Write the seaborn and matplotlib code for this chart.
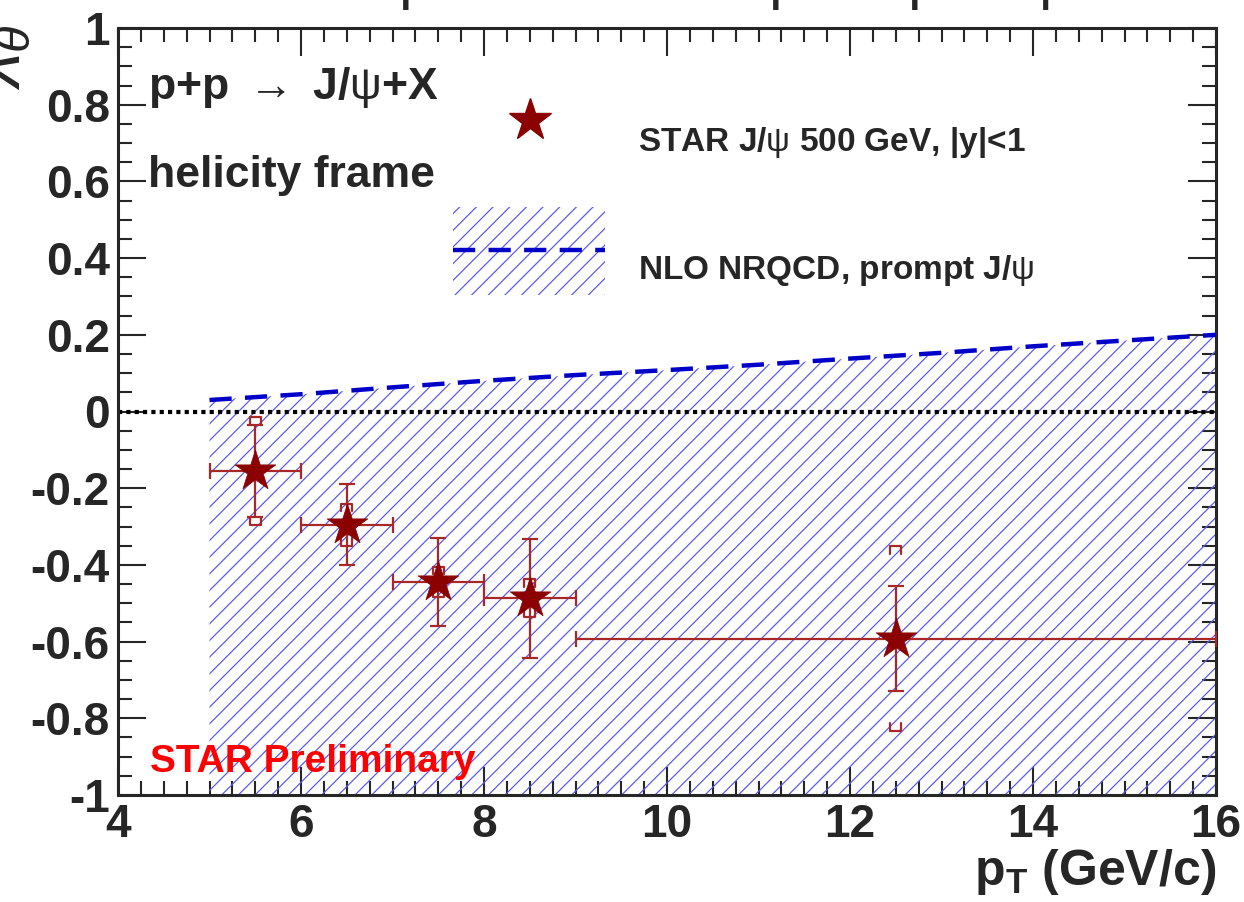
import numpy as np
import seaborn as sns
import matplotlib.pyplot as plt
from matplotlib.patches import Rectangle
from matplotlib.ticker import MultipleLocator

sns.set_style("ticks")
plt.rcParams['font.family'] = ['Liberation Sans', 'DejaVu Sans']
plt.rcParams['mathtext.fontset'] = 'custom'
plt.rcParams['mathtext.rm'] = 'Liberation Sans'
plt.rcParams['mathtext.bf'] = 'Liberation Sans:bold'
plt.rcParams['mathtext.it'] = 'Liberation Sans:italic'
plt.rcParams['hatch.linewidth'] = 0.9

# STAR J/psi 500 GeV data points
pt = [5.5, 6.5, 7.5, 8.5, 12.5]
pt_lo = [0.5, 0.5, 0.5, 0.5, 3.5]
pt_hi = [0.5, 0.5, 0.5, 0.5, 3.5]
lam = [-0.155, -0.295, -0.445, -0.487, -0.592]
stat_err = [0.12, 0.105, 0.115, 0.155, 0.138]
sys_err = [0.14, 0.055, 0.04, 0.05, 0.24]

# NLO NRQCD prompt J/psi prediction (upper edge of band)
nlo_pt = [5, 6, 7, 8, 9, 10, 11, 12, 13, 14, 15, 16]
nlo_lam = [0.03, 0.045, 0.063, 0.08, 0.095, 0.108, 0.122, 0.138, 0.153, 0.17, 0.185, 0.2]
nlo_low = -1.0

star_col = '#8b0000'
err_col = '#a82828'
band_col = '#5c5cf0'
line_col = '#0000c8'

fig = plt.figure(figsize=(12.44, 9.02), dpi=100)
ax = fig.add_axes([118/1244, 1-795/902, (1216-118)/1244, (795-28)/902])


def px(x, y):
    # pixel position in the figure -> axes fraction
    return ((x - 118) / (1216 - 118), (795 - y) / (795 - 28))


# theory band
ax.fill_between(nlo_pt, nlo_low, nlo_lam, facecolor='none', edgecolor=band_col,
                hatch='//', linewidth=0, zorder=1)
sns.lineplot(x=nlo_pt, y=nlo_lam, ax=ax, color=line_col, lw=3.2,
             linestyle=(0, (5, 3)), zorder=3)

ax.axhline(0, color='black', lw=3, linestyle=(0, (1, 1)), zorder=2)

# stat errors
ax.errorbar(pt, lam, xerr=[pt_lo, pt_hi], yerr=stat_err, fmt='none',
            ecolor=err_col, elinewidth=1.6, capsize=6, capthick=1.6, zorder=4)

# sys brackets
bw = 0.06
bh = 0.02
for x, y, s in zip(pt, lam, sys_err):
    top = y + s
    bot = y - s
    ax.plot([x - bw, x - bw, x + bw, x + bw], [top - bh, top, top, top - bh],
            color=err_col, lw=1.6, zorder=4)
    ax.plot([x - bw, x - bw, x + bw, x + bw], [bot + bh, bot, bot, bot + bh],
            color=err_col, lw=1.6, zorder=4)

sns.scatterplot(x=pt, y=lam, ax=ax, marker='*', s=950, color=star_col,
                edgecolor=star_col, linewidth=0.5, zorder=5)

ax.set_xlim(4, 16)
ax.set_ylim(-1, 1)
ax.xaxis.set_major_locator(MultipleLocator(2))
ax.xaxis.set_minor_locator(MultipleLocator(0.25))
ax.yaxis.set_minor_locator(MultipleLocator(0.05))
ax.set_yticks([-1, -0.8, -0.6, -0.4, -0.2, 0, 0.2, 0.4, 0.6, 0.8, 1])
ax.set_yticklabels(['-1', '-0.8', '-0.6', '-0.4', '-0.2', '0', '0.2', '0.4', '0.6', '0.8', '1'])
ax.tick_params(which='both', direction='in', top=True, right=True, width=1.5)
ax.tick_params(which='major', length=20, labelsize=33, pad=6)
ax.tick_params(which='minor', length=10)
for lbl in ax.get_xticklabels() + ax.get_yticklabels():
    lbl.set_fontweight('bold')
for sp in ax.spines.values():
    sp.set_linewidth(2.2)

ax.set_xlabel(r'p$_{\mathbf{T}}$ (GeV/c)', fontsize=36, fontweight='bold',
              ha='right', x=1.0, labelpad=0)
ax.set_ylabel('')

# texts
ax.text(*px(148, 88), r'p+p $\rightarrow$ J/$\mathrm{\psi}$+X', transform=ax.transAxes,
        fontsize=32, fontweight='bold', va='center')
ax.text(*px(148, 175), 'helicity frame', fontsize=32, fontweight='bold', va='center',
        transform=ax.transAxes)
ax.text(*px(150, 762), 'STAR Preliminary', fontsize=28, fontweight='bold', color='red',
        va='center', transform=ax.transAxes)

fig.text(398/1244, 1 + 3/902, r'prediction for prompt J/$\mathrm{\psi}$',
         fontsize=44, va='baseline', ha='left')
fig.text(34/1244, 1 - 25/902, r'$\lambda_{\theta}$', fontsize=50, rotation=90,
         ha='right', va='top')

# legend
sx, sy = px(530, 120)
ax.plot([sx], [sy], marker='*', markersize=32, color=star_col, transform=ax.transAxes,
        clip_on=False, zorder=6)
ax.text(*px(638, 142), r'STAR J/$\mathrm{\psi}$ 500 GeV, |y|<1', fontsize=24,
        fontweight='bold', va='center', transform=ax.transAxes)
rx0, ry0 = px(453, 295)
rx1, ry1 = px(605, 207)
ax.add_patch(Rectangle((rx0, ry0), rx1 - rx0, ry1 - ry0, transform=ax.transAxes,
                       facecolor='none', edgecolor=band_col, hatch='//', linewidth=0))
lx0, ly = px(453, 250)
lx1, _ = px(605, 250)
ax.plot([lx0, lx1], [ly, ly], color=line_col, lw=3.2, linestyle=(0, (5, 3)),
        transform=ax.transAxes)
ax.text(*px(638, 270), r'NLO NRQCD, prompt J/$\mathrm{\psi}$', fontsize=24,
        fontweight='bold', va='center', transform=ax.transAxes)

fig.savefig('out.png', dpi=100)
